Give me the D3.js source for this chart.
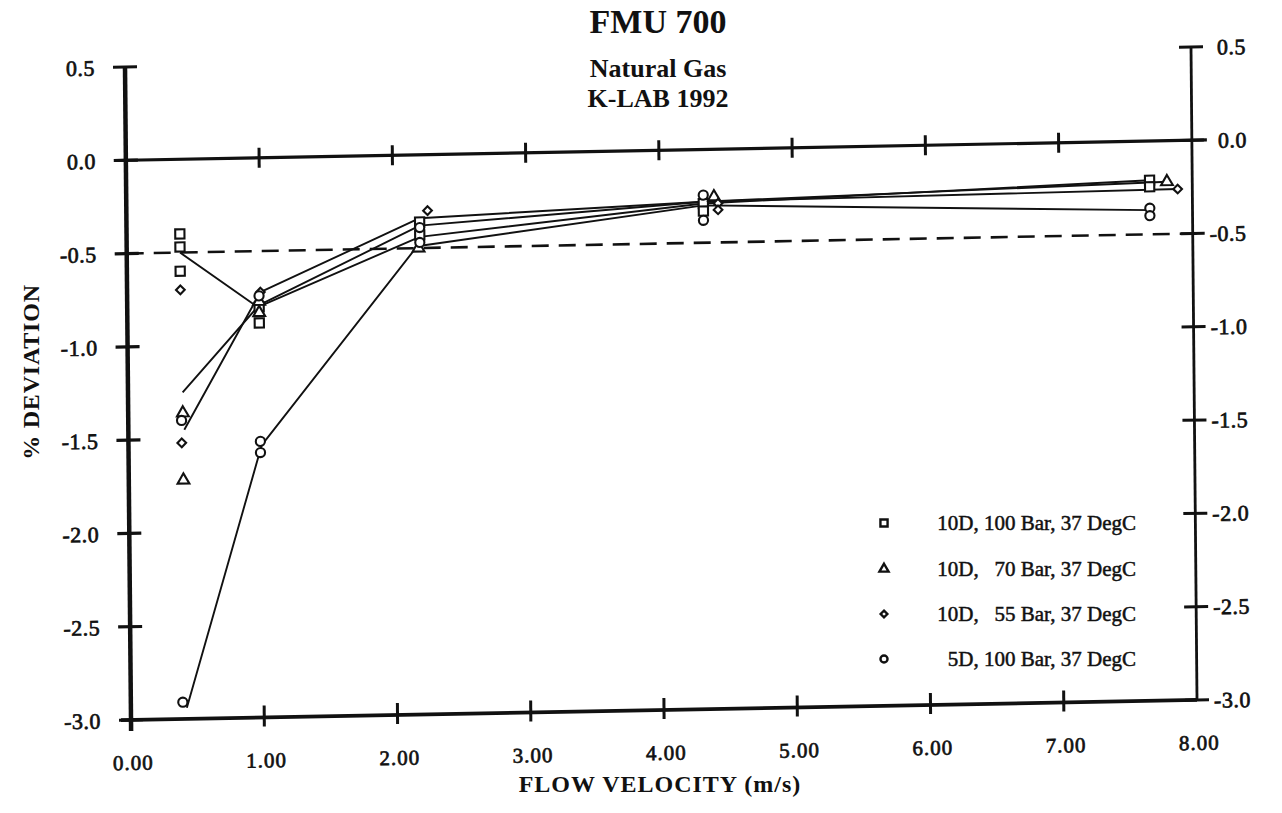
<!DOCTYPE html>
<html><head><meta charset="utf-8">
<script src="https://cdn.jsdelivr.net/npm/d3@7"></script>
<style>
body{margin:0;background:#fff}
svg{display:block}
text{font-family:"Liberation Serif","Times New Roman",serif;fill:#111}
</style>
</head><body>
<svg id="chart" width="1282" height="813"></svg>
<script>
// ---------- data ----------
const titleLines = ["FMU 700", "Natural Gas", "K-LAB 1992"];
const xAxisTitle = "FLOW VELOCITY (m/s)";
const yAxisTitle = "% DEVIATION";
const xTicks = [0, 1, 2, 3, 4, 5, 6, 7, 8];
const xTickLabels = ["0.00", "1.00", "2.00", "3.00", "4.00", "5.00", "6.00", "7.00", "8.00"];
const yTicks = [0.5, 0, -0.5, -1, -1.5, -2, -2.5, -3];
const yTickLabels = ["0.5", "0.0", "-0.5", "-1.0", "-1.5", "-2.0", "-2.5", "-3.0"];
const refLineValue = -0.5;

const seriesNames = ["10D, 100 Bar, 37 DegC", "10D,   70 Bar, 37 DegC", "10D,   55 Bar, 37 DegC", "5D, 100 Bar, 37 DegC"];
const seriesSymbols = ["square", "triangle", "diamond", "circle"];

// measured points
const sq100X = [0.40, 0.40, 0.40, 0.99, 0.99, 2.20, 2.20, 4.33, 4.33, 7.68, 7.68];
const sq100Y = [-0.40, -0.47, -0.60, -0.80, -0.885, -0.36, -0.43, -0.29, -0.33, -0.21, -0.245];
const tri70X = [0.41, 0.41, 0.99, 0.99, 2.19, 4.41, 7.81];
const tri70Y = [-1.36, -1.72, -0.77, -0.83, -0.50, -0.255, -0.22];
const dia55X = [0.40, 0.40, 1.00, 2.26, 4.44, 4.44, 7.89];
const dia55Y = [-0.70, -1.52, -0.72, -0.30, -0.29, -0.325, -0.26];
const cir5dX = [0.39, 0.40, 0.99, 0.99, 0.99, 2.20, 2.20, 4.33, 4.33, 7.68, 7.68];
const cir5dY = [-2.91, -1.40, -0.74, -1.52, -1.58, -0.39, -0.47, -0.245, -0.38, -0.36, -0.40];

// fitted curves
const sq100FitX = [0.40, 0.98, 2.20, 4.33, 7.68];
const sq100FitY = [-0.50, -0.80, -0.44, -0.29, -0.21];
const tri70FitX = [0.41, 0.99, 2.20, 4.33, 7.81];
const tri70FitY = [-1.25, -0.79, -0.38, -0.28, -0.22];
const dia55FitX = [0.42, 1.00, 2.20, 4.33, 7.89];
const dia55FitY = [-1.45, -0.72, -0.34, -0.28, -0.26];
const cir5dFitX = [0.42, 1.00, 2.18, 4.33, 7.68];
const cir5dFitY = [-2.94, -1.54, -0.49, -0.30, -0.37];

// ---------- drawing ----------
const svg = d3.select("#chart");
const W = 1066, H = 653;
const x = d3.scaleLinear().domain([0, 8]).range([0, W]);
const y = d3.scaleLinear().domain([-3, 0.5]).range([H, 0]);

// titles (screen space)
const titleSizes = [34, 26, 26];
const titleY = [33, 77, 107];
titleLines.forEach((t, i) => {
  svg.append("text").attr("x", 658).attr("y", titleY[i])
    .attr("text-anchor", "middle").attr("font-weight", "bold")
    .attr("font-size", titleSizes[i]).text(t);
});
svg.append("text").attr("x", 660).attr("y", 792).attr("text-anchor", "middle")
  .attr("font-weight", "bold").attr("font-size", 24).attr("letter-spacing", 1).text(xAxisTitle);
svg.append("text").attr("transform", "translate(39,372) rotate(-90)").attr("text-anchor", "middle")
  .attr("font-weight", "bold").attr("font-size", 24).attr("letter-spacing", 0.8).text(yAxisTitle);

// plot group, slightly skewed like the scan
const g = svg.append("g").attr("transform", "matrix(1,-0.0188,0.0092,1,125,67)");
const ink = "#111";

// left axis
g.append("line").attr("x1", x(0)).attr("x2", x(0)).attr("y1", y(0.5)).attr("y2", y(-3) + 11)
  .attr("stroke", ink).attr("stroke-width", 4.5);
// right axis
g.append("line").attr("x1", x(8)).attr("x2", x(8)).attr("y1", y(0.5)).attr("y2", y(-3))
  .attr("stroke", ink).attr("stroke-width", 2.8);
// bottom axis
g.append("line").attr("x1", x(0) - 10).attr("x2", x(8)).attr("y1", y(-3)).attr("y2", y(-3))
  .attr("stroke", ink).attr("stroke-width", 3.8);
// zero line
g.append("line").attr("x1", x(0) - 12).attr("x2", x(8) + 15).attr("y1", y(0)).attr("y2", y(0))
  .attr("stroke", ink).attr("stroke-width", 3.2);
// dashed reference line
g.append("line").attr("x1", x(0)).attr("x2", x(8) + 10).attr("y1", y(refLineValue)).attr("y2", y(refLineValue))
  .attr("stroke", ink).attr("stroke-width", 2.6).attr("stroke-dasharray", "17,10");

// y ticks (left & right)
yTicks.forEach(v => {
  g.append("line").attr("x1", x(0) - 12).attr("x2", x(0) + 12).attr("y1", y(v)).attr("y2", y(v))
    .attr("stroke", ink).attr("stroke-width", 3.2);
  g.append("line").attr("x1", x(8) - 12).attr("x2", x(8) + 12).attr("y1", y(v)).attr("y2", y(v))
    .attr("stroke", ink).attr("stroke-width", 3);
});
// x ticks on zero line and bottom axis
xTicks.filter(v => v > 0 && v < 8).forEach(v => {
  g.append("line").attr("x1", x(v)).attr("x2", x(v)).attr("y1", y(0) - 10).attr("y2", y(0) + 10)
    .attr("stroke", ink).attr("stroke-width", 3);
  g.append("line").attr("x1", x(v)).attr("x2", x(v)).attr("y1", y(-3) - 12).attr("y2", y(-3) + 9)
    .attr("stroke", ink).attr("stroke-width", 3);
});

// tick labels
yTicks.forEach((v, i) => {
  g.append("text").attr("x", x(0) - 30).attr("y", y(v) + 8).attr("text-anchor", "end")
    .attr("font-size", 22).attr("letter-spacing", 0.5).attr("stroke", ink).attr("stroke-width", 0.7)
    .text(yTickLabels[i]);
  g.append("text").attr("x", x(8) + (v < 0 ? 17 : 26)).attr("y", y(v) + 8).attr("text-anchor", "start")
    .attr("font-size", 22).attr("letter-spacing", 0.5).attr("stroke", ink).attr("stroke-width", 0.7)
    .text(yTickLabels[i]);
});
xTicks.forEach((v, i) => {
  g.append("text").attr("x", x(v) + 2).attr("y", y(-3) + 50).attr("text-anchor", "middle")
    .attr("font-size", 21).attr("letter-spacing", 1).attr("stroke", ink).attr("stroke-width", 0.7)
    .text(xTickLabels[i]);
});

// fitted lines
const fits = [[sq100FitX, sq100FitY], [tri70FitX, tri70FitY], [dia55FitX, dia55FitY], [cir5dFitX, cir5dFitY]];
const lineGen = d3.line().x(d => x(d[0])).y(d => y(d[1])).curve(d3.curveLinear);
fits.forEach(([xs, ys]) => {
  g.append("path").attr("d", lineGen(xs.map((v, i) => [v, ys[i]])))
    .attr("fill", "none").attr("stroke", ink).attr("stroke-width", 1.9).attr("stroke-linejoin", "round");
});

// markers
const symType = {
  square: d3.symbolSquare,
  triangle: d3.symbolTriangle,
  diamond: d3.symbolDiamond2 || d3.symbolDiamond,
  circle: d3.symbolCircle
};
const symSize = {square: 85, triangle: 60, diamond: 48, circle: 66};
const pts = [[sq100X, sq100Y], [tri70X, tri70Y], [dia55X, dia55Y], [cir5dX, cir5dY]];
pts.forEach(([xs, ys], si) => {
  const s = seriesSymbols[si];
  const sym = d3.symbol().type(symType[s]).size(symSize[s]);
  g.selectAll(null).data(xs.map((v, i) => [v, ys[i]])).enter().append("path")
    .attr("d", sym)
    .attr("transform", d => `translate(${x(d[0])},${y(d[1])})`)
    .attr("fill", "#fff").attr("stroke", ink).attr("stroke-width", 2.1);
});

// legend (screen space)
const legRowY = [523, 569, 614, 659];
seriesNames.forEach((name, i) => {
  const s = seriesSymbols[i];
  const sym = d3.symbol().type(symType[s]).size(symSize[s] * 0.6);
  svg.append("path").attr("d", sym).attr("transform", `translate(884,${legRowY[i]})`)
    .attr("fill", "#fff").attr("stroke", ink).attr("stroke-width", 2.4);
  svg.append("text").attr("x", 1136).attr("y", legRowY[i] + 7).attr("text-anchor", "end")
    .attr("font-size", 21).attr("stroke", ink).attr("stroke-width", 0.5)
    .style("white-space", "pre").text(name);
});
</script>
</body></html>
